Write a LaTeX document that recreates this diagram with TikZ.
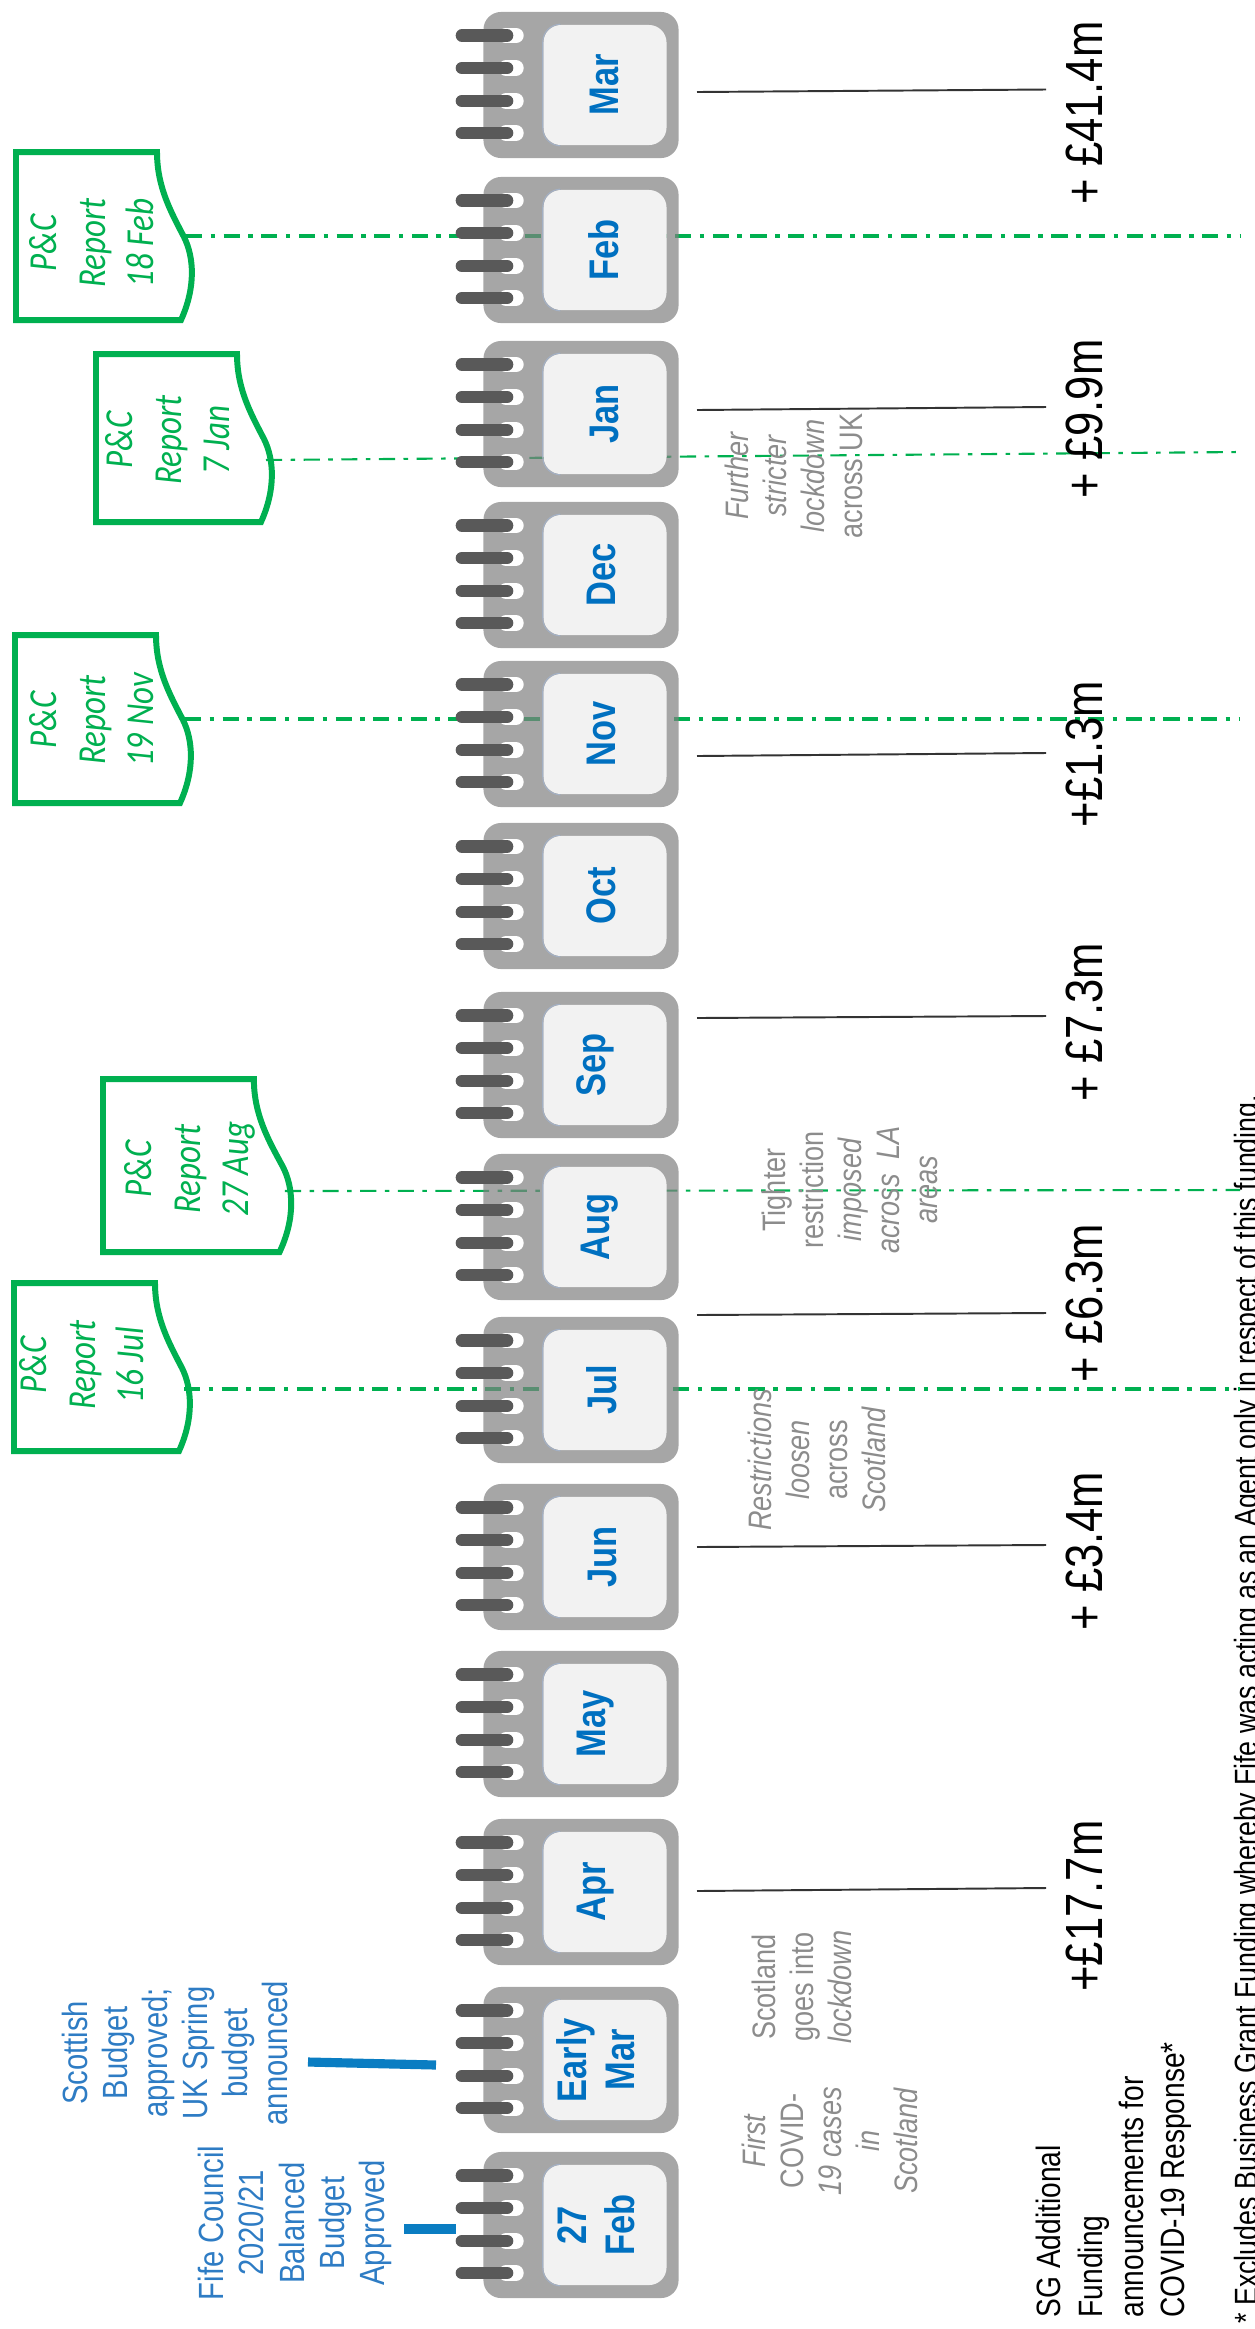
\documentclass[tikz,border=0pt]{standalone}
\usepackage{fontspec}
\setmainfont{Liberation Sans}
\newfontfamily\docfont{Carlito}
\usetikzlibrary{positioning,calc}

\definecolor{calgrey}{HTML}{808080}
\definecolor{calpanel}{HTML}{F2F2F2}
\definecolor{caledge}{HTML}{A3B0C4}
\definecolor{calring}{HTML}{595959}
\definecolor{calblue}{HTML}{0070C0}
\definecolor{notegrey}{HTML}{8C8C8C}
\definecolor{reportgreen}{HTML}{00B050}
\definecolor{barblue}{HTML}{0A7DC2}
\definecolor{textblue}{HTML}{2E7CC4}

\tikzset{
    sidetext/.style={rotate=90, yscale=1.2, align=center, inner sep=0pt},
    calbody/.style={fill=calgrey, fill opacity=0.7, rounded corners=5pt, minimum width=1.95cm, minimum height=1.46cm, inner sep=0pt},
    calpage/.style={fill=calpanel, rounded corners=5pt, minimum width=1.23cm, minimum height=1.20cm, inner sep=0pt},
    caledgeline/.style={draw=caledge, line width=0.3pt, rounded corners=5pt},
    callabel/.style={sidetext, text=calblue, font=\fontsize{9.8}{11.4}\selectfont\bfseries},
    amount/.style={sidetext, anchor=base, font=\fontsize{12.4}{14}\selectfont},
    bluenote/.style={sidetext, text=textblue, font=\fontsize{8.3}{9.5}\selectfont},
    greynote/.style={sidetext, text=notegrey, font=\fontsize{7.7}{9}\selectfont},
    blacknote/.style={sidetext, align=left, font=\fontsize{8}{9.8}\selectfont},
    reporttext/.style={sidetext, text=reportgreen, font=\docfont\itshape\fontsize{9.4}{11.5}\selectfont},
    reportbox/.style={draw=reportgreen, line width=1.7pt, fill=white},
    reportline/.style={draw=reportgreen, line width=1.15pt, dash pattern=on 4.6pt off 2.4pt on 1.3pt off 2.4pt},
    reportthin/.style={draw=reportgreen, line width=0.6pt, dash pattern=on 4.6pt off 2.4pt on 1.3pt off 2.4pt},
    fundline/.style={draw=black!80, line width=0.55pt},
    bluebar/.style={draw=barblue, line width=2.6pt}
}

% calendar: name, top edge, label, label x
\newcommand{\monthcal}[4]{
    \node[calbody] (cal#1) at (581,#2+73) {};
    \node[calpage] (page#1) at (605,#2+73) {};
    \draw[caledgeline] ($(page#1.north west)+(16,0)$) -- (page#1.north west) -- (page#1.south west) -- ($(page#1.south west)+(16,0)$);
    \node[callabel] (lab#1) at (#4,#2+73) {#3};
    \foreach \r in {23.5,56,89,121} {
        \draw[white, line width=4.4pt, line cap=round] (506,#2+\r) -- (516,#2+\r);
        \draw[calring, line width=3.6pt, line cap=round] (462,#2+\r) -- (507,#2+\r);
    }
}

% report sheet: name, left, top, x scale, y scale, y of its line at both ends
\newcommand{\reportdoc}[7]{
    \begin{scope}[shift={(#2,#3)}, xscale=#4, yscale=#5]
        \draw[reportbox] (0,0) -- (141,0) .. controls (141,35) and (155,60) .. (168,85)
            .. controls (178,105) and (180,135) .. (165,168) -- (0,168) -- cycle;
    \end{scope}
    \coordinate (rep#1) at ($(#2,#6)+(#4*170,0)$);
    \coordinate (end#1) at (1240,#7);
}

% funding line: name, y at calendar, y at amount
\newcommand{\fundlink}[3]{
    \coordinate (fundA#1) at (697,#2);
    \coordinate (fundB#1) at (1046,#3);
    \draw[fundline] (fundA#1) -- (fundB#1);
}

\begin{document}
\begin{tikzpicture}[x=0.01cm, y=-0.01cm]
    \useasboundingbox (0,0) rectangle (1255,2329);

    % Report sheets and their lines
    \reportdoc{Feb}{16}{152}{1}{1}{236}{236}
    \reportdoc{Jan}{96}{354}{1}{1.0}{460}{452}
    \reportdoc{Nov}{15}{635}{1}{1}{719}{719}
    \reportdoc{Aug}{103}{1079}{1.07}{1.03}{1191}{1190}
    \reportdoc{Jul}{14}{1283}{1}{1}{1389}{1389}

    \draw[reportline] (repFeb) -- (endFeb);
    \draw[reportthin] (repJan) -- (endJan);
    \draw[reportline] (repNov) -- (endNov);
    \draw[reportthin] (repAug) -- (endAug);
    \draw[reportline] (repJul) -- (endJul);

    \node[reporttext] (txtFeb) at (92,243) {P\&C\\Report\\18 Feb};
    \node[reporttext] (txtJan) at (168,440) {P\&C\\Report\\7 Jan};
    \node[reporttext] (txtNov) at (92,720) {P\&C\\Report\\19 Nov};
    \node[reporttext] (txtAug) at (190,1169) {P\&C\\Report\\27 Aug};
    \node[reporttext] (txtJul) at (82,1365) {P\&C\\Report\\16 Jul};

    % Calendars
    \monthcal{Mar}{12}{Mar}{604}
    \monthcal{Feb}{177}{Feb}{604}
    \monthcal{Jan}{341}{Jan}{604}
    \monthcal{Dec}{502}{Dec}{601}
    \monthcal{Nov}{661}{Nov}{601}
    \monthcal{Oct}{823}{Oct}{601}
    \monthcal{Sep}{992}{Sep}{595}
    \monthcal{Aug}{1154}{Aug}{600}
    \monthcal{Jul}{1317}{Jul}{602}
    \monthcal{Jun}{1484}{Jun}{602}
    \monthcal{May}{1651}{May}{596}
    \monthcal{Apr}{1819}{Apr}{596}
    \monthcal{EMar}{1987}{Early\\Mar}{596}
    \monthcal{TFeb}{2152}{27\\Feb}{596}

    % Funding
    \fundlink{Mar}{92}{89.5}
    \fundlink{Jan}{410}{407}
    \fundlink{Nov}{756}{753}
    \fundlink{Sep}{1018}{1016}
    \fundlink{Jul}{1315}{1313}
    \fundlink{Jun}{1547}{1545}
    \fundlink{Apr}{1891}{1888}

    \node[amount] (amtMar) at (1102,113) {+ £41.4m};
    \node[amount] (amtJan) at (1102,419) {+ £9.9m};
    \node[amount] (amtNov) at (1102,754) {+£1.3m};
    \node[amount] (amtSep) at (1102,1022) {+ £7.3m};
    \node[amount] (amtJul) at (1102,1303) {+ £6.3m};
    \node[amount] (amtJun) at (1102,1551) {+ £3.4m};
    \node[amount] (amtApr) at (1102,1906) {+£17.7m};

    % Grey notes
    \node[greynote] (noteJan) at (794,476) {\itshape Further\\\itshape stricter\\\itshape lockdown\\across UK};
    \node[greynote] (noteAug) at (850,1190) {Tighter\\restriction\\\itshape imposed\\\itshape across\ \ LA\\\itshape areas};
    \node[greynote] (noteJul) at (817,1460) {\itshape Restrictions\\\itshape loosen\\across\\\itshape Scotland};
    \node[greynote] (noteLock) at (802,1987) {Scotland\\goes into\\\itshape lockdown};
    \node[greynote] (noteFirst) at (830,2141) {\itshape First\\COVID-\\\itshape 19 cases\\\itshape in\\\itshape Scotland};

    % Blue notes
    \node[bluenote] (scotBudget) at (175,2053) {Scottish\\Budget\\approved;\\UK Spring\\budget\\announced};
    \node[bluenote] (fifeBudget) at (295,2223) {Fife Council\\2020/21\\Balanced\\Budget\\Approved};
    \coordinate (barScotA) at (308,2062);
    \coordinate (barScotB) at (436,2065);
    \coordinate (barFifeA) at (404,2229);
    \coordinate (barFifeB) at (456,2229);
    \draw[bluebar] (barScotA) -- (barScotB);
    \draw[bluebar] (barFifeA) -- (barFifeB);

    % Key and footnote
    \node[blacknote, anchor=west] (keyFund) at (1114,2318) {SG Additional\\Funding\\announcements for\\COVID-19 Response*};
    \node[blacknote, anchor=east, font=\fontsize{7.62}{9.5}\selectfont] (footNote) at (1249,1094) {* Excludes Business Grant Funding whereby Fife was acting as an Agent only in respect of this funding.};
\end{tikzpicture}
\end{document}
